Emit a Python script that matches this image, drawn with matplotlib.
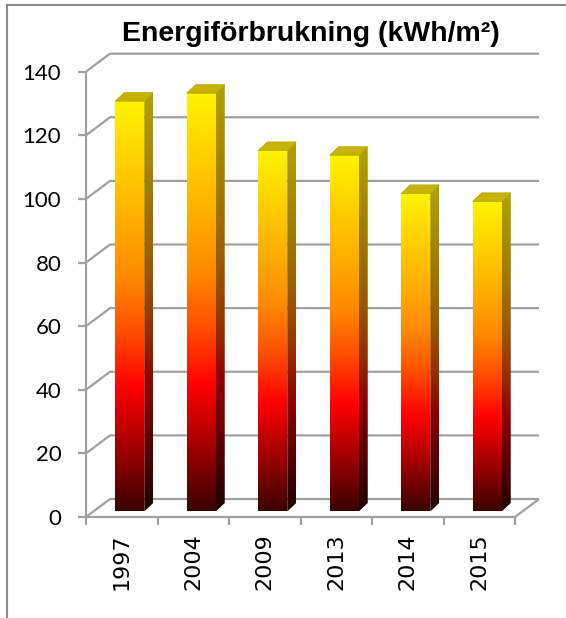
import numpy as np
import matplotlib
matplotlib.use('Agg')
import matplotlib.pyplot as plt
from matplotlib.colors import LinearSegmentedColormap
from matplotlib.patches import Polygon
from matplotlib.lines import Line2D

# ---- data ----
years = ['1997', '2004', '2009', '2013', '2014', '2015']
values = [129, 131.5, 113.5, 112, 100, 97.5]
yticks = [0, 20, 40, 60, 80, 100, 120, 140]
title = 'Energiförbrukning (kWh/m²)'

# ---- figure / axes geometry (pixels) ----
W, H = 566, 618
fig = plt.figure(figsize=(W / 100, H / 100), dpi=100)
ax_l, ax_r, ax_t, ax_b = 86, 560, 45, 540
ax = fig.add_axes([ax_l / W, 1 - ax_b / H, (ax_r - ax_l) / W, (ax_b - ax_t) / H])
px_cat = 71.5
px_val = 3.181
y0_px = 517
xlim = (0, (ax_r - ax_l) / px_cat)
ylim = ((y0_px - ax_b) / px_val, (y0_px - ax_t) / px_val)

n = len(years)
grid = '#A0A0A0'
lw = 1.6

# depth of the 3D box
ddx, ddy = 24 / px_cat, 18 / px_val
# bar geometry
fdx, fdy = 8 / px_cat, 5.5 / px_val
bw = 29 / px_cat
sdx, sdy = 9 / px_cat, 8.5 / px_val

# back wall + side wall gridlines
for v in yticks:
    ax.plot([0, ddx, n + ddx], [v, v + ddy, v + ddy], color=grid, lw=lw,
            zorder=1, solid_joinstyle='miter', solid_capstyle='butt')
# floor right edge
ax.plot([n, n + ddx], [0, ddy], color=grid, lw=lw, zorder=1, solid_capstyle='butt')

front_cmap = LinearSegmentedColormap.from_list('fire', [
    (0.00, '#3A0000'), (0.15, '#A00000'), (0.30, '#FF0000'), (0.43, '#FF4A00'),
    (0.57, '#FF8A00'), (0.75, '#FFB800'), (1.00, '#FFF400')])
side_cmap = LinearSegmentedColormap.from_list('fire_side', [
    (0.00, '#1E0000'), (0.15, '#580000'), (0.30, '#8C0000'), (0.43, '#943000'),
    (0.57, '#9A5800'), (0.75, '#A07A00'), (1.00, '#B0A200')])
top_color = '#C6B400'

grad = np.linspace(0, 1, 256).reshape(-1, 1)
bars = ax.bar(np.arange(n) + 0.5 + fdx, values, width=bw, bottom=fdy,
              color='none', edgecolor='none', zorder=3)
for b in bars:
    x0, y0, w, h = b.get_x(), b.get_y(), b.get_width(), b.get_height()
    im = ax.imshow(grad, extent=(x0, x0 + w, y0, y0 + h), origin='lower',
                   cmap=front_cmap, aspect='auto', zorder=3, interpolation='bilinear')
    im.set_clip_path(b)
    side = Polygon([(x0 + w, y0), (x0 + w + sdx, y0 + sdy), (x0 + w + sdx, y0 + h + sdy),
                    (x0 + w, y0 + h)], closed=True, facecolor='none', edgecolor='none', zorder=3)
    ax.add_patch(side)
    ims = ax.imshow(grad, extent=(x0 + w, x0 + w + sdx, y0, y0 + h + sdy), origin='lower',
                    cmap=side_cmap, aspect='auto', zorder=3, interpolation='bilinear')
    ims.set_clip_path(side)
    top = Polygon([(x0, y0 + h), (x0 + w, y0 + h), (x0 + w + sdx, y0 + h + sdy),
                   (x0 + sdx, y0 + h + sdy)], closed=True, facecolor=top_color,
                  edgecolor='#B0A400', lw=0.5, zorder=3)
    ax.add_patch(top)

ax.set_xlim(*xlim)
ax.set_ylim(*ylim)

# ---- axes, ticks ----
label_font = 'Lato'
ax.set_yticks(yticks)
ax.set_yticklabels([str(t) for t in yticks])
ax.tick_params(axis='y', length=5.8, width=lw, color=grid, pad=12, labelsize=16)
ax.set_xticks(np.arange(n + 1))
ax.set_xticklabels([])
ax.tick_params(axis='x', which='major', length=5.8, width=lw, color=grid)
ax.set_xticks(np.arange(n) + 0.5, minor=True)
ax.set_xticklabels(years, minor=True)
ax.tick_params(axis='x', which='minor', length=0, pad=12, labelsize=16, labelrotation=90)
for lab in ax.get_yticklabels() + ax.get_xticklabels(minor=True):
    lab.set_family(label_font)

for s in ('top', 'right'):
    ax.spines[s].set_visible(False)
ax.spines['left'].set_bounds(0, 140)
ax.spines['left'].set_color(grid)
ax.spines['left'].set_linewidth(lw)
ax.spines['bottom'].set_position(('data', 0))
ax.spines['bottom'].set_bounds(0, n)
ax.spines['bottom'].set_color(grid)
ax.spines['bottom'].set_linewidth(lw)
ax.patch.set_visible(False)

# ---- title ----
fig.text(311 / W, 1 - 34 / H, title, ha='center', va='center', fontsize=20.5,
         fontweight='bold', family='Liberation Sans', color='black')

# ---- chart frame (top and left visible) ----
frame = '#8C8C8C'
fig.add_artist(Line2D([7 / W, 7 / W], [0, 1 - 5 / H], transform=fig.transFigure,
                      color=frame, lw=1.5))
fig.add_artist(Line2D([7 / W, 1], [1 - 5 / H, 1 - 5 / H], transform=fig.transFigure,
                      color=frame, lw=1.5))

fig.savefig('out.png', dpi=100)
